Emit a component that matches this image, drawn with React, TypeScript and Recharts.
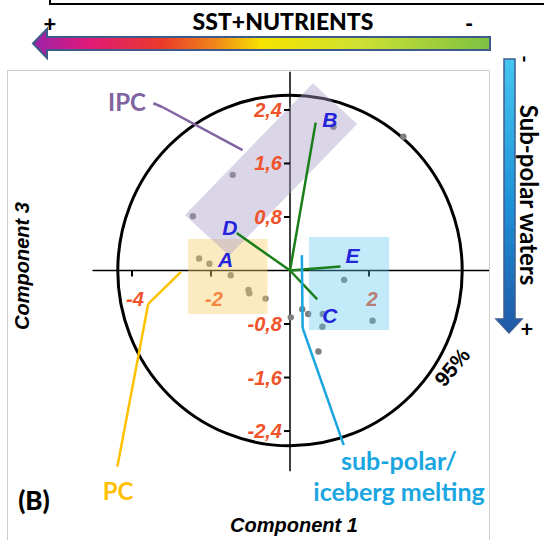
import React from 'react'
import {
  ScatterChart,
  Scatter,
  XAxis,
  YAxis,
  ReferenceLine,
  ReferenceArea,
  ReferenceDot
} from 'recharts'

// sample scores: [Component 1, Component 3]
const samples: [number, number][] = [
  [-1.45, 1.43], [-2.46, 0.81], [-2.3, 0.18], [-2.04, 0.1], [-1.5, -0.07],
  [-1.05, -0.29], [-1.03, -0.34], [-0.62, -0.42], [1.1, 2.15], [2.87, 2.0],
  [1.37, -0.14], [2.09, -0.75], [0.31, -0.58], [0.46, -0.65], [0.02, -0.7],
  [0.83, -0.65], [0.82, -0.84], [0.72, -1.21]
]

// loading vectors (end points)
const vectorNames = ['B', 'C', 'D', 'E']
const vectorEnds: [number, number][] = [[0.65, 2.21], [0.69, -0.43], [-1.35, 0.56], [1.28, 0.06]]

// letter labels
const letterNames = ['A', 'B', 'C', 'D', 'E']
const letterPos: [number, number][] = [[-1.63, 0.17], [1.01, 2.26], [1.01, -0.67], [-1.52, 0.65], [1.58, 0.22]]

const xTicks = [-4, -2, 2]
const yTicks = [2.4, 1.6, 0.8, -0.8, -1.6, -2.4]

// 95% ellipse half axes
const ellipseRx = 4.36
const ellipseRy = 2.62

// grouping boxes
const pcBox = { x1: -2.58, x2: -0.57, y1: -0.65, y2: 0.47 }
const spBox = { x1: 0.48, x2: 2.51, y1: -0.89, y2: 0.5 }
const ipcCorners: [number, number][] = [[-2.66, 0.83], [0.58, 2.8], [1.7, 2.19], [-1.54, 0.22]]

// leader lines
const ipcLeader: [number, number][] = [[-3.46, 2.5], [-3.22, 2.44], [-1.2, 1.8]]
const pcLeader: [number, number][] = [[-2.76, -0.02], [-3.59, -0.5], [-4.37, -2.93]]
const spLeader: [number, number][] = [[0.3, 0.23], [0.32, -0.86], [1.36, -2.61]]

const ARIAL = '"Liberation Sans", Arial, sans-serif'
const CAL = 'Lato, "Open Sans", sans-serif'
const TICK_COLOR = '#f0532a'

function segments(pts: [number, number][], color: string, key: string) {
  return pts.slice(1).map((p, i) => (
    <ReferenceLine
      key={`${key}-${i}`}
      segment={[{ x: pts[i][0], y: pts[i][1] }, { x: p[0], y: p[1] }]}
      stroke={color}
      strokeWidth={2.5}
      ifOverflow="visible"
      zIndex={800}
    />
  ))
}

export default function App() {
  const data = samples.map(([x, y]) => ({ x, y }))
  const ipcX = ipcCorners.map((c) => c[0])
  const ipcY = ipcCorners.map((c) => c[1])
  const ix1 = Math.min(...ipcX), ix2 = Math.max(...ipcX)
  const iy1 = Math.min(...ipcY), iy2 = Math.max(...ipcY)

  return (
    <div style={{ position: 'absolute', left: 0, top: 0, width: 544, height: 540, background: '#fff' }}>
      <ScatterChart width={544} height={540} margin={{ top: 69.8, right: 56.5, bottom: 68.8, left: 92.5 }}>
        <XAxis type="number" dataKey="x" domain={[-5, 5]} hide />
        <YAxis type="number" dataKey="y" domain={[-3, 3]} hide />

        {/* 95% ellipse */}
        <ReferenceArea
          x1={-ellipseRx}
          x2={ellipseRx}
          y1={-ellipseRy}
          y2={ellipseRy}
          zIndex={100}
          shape={(p: any) => (
            <ellipse
              cx={p.x + p.width / 2}
              cy={p.y + p.height / 2}
              rx={p.width / 2}
              ry={p.height / 2}
              fill="none"
              stroke="#000"
              strokeWidth={3}
            />
          )}
        />

        {/* axes through origin */}
        <ReferenceLine segment={[{ x: -5, y: 0 }, { x: 5.04, y: 0 }]} stroke="#000" strokeWidth={1.5} ifOverflow="visible" zIndex={400} />
        <ReferenceLine segment={[{ x: 0, y: 2.97 }, { x: 0, y: -3 }]} stroke="#000" strokeWidth={1.5} ifOverflow="visible" zIndex={400} />

        {xTicks.map((t) => (
          <ReferenceDot
            key={`xt${t}`}
            x={t}
            y={0}
            zIndex={500}
            shape={(p: any) => (
              <g>
                <line x1={p.cx} y1={p.cy} x2={p.cx} y2={p.cy + 6} stroke="#000" strokeWidth={2} />
                <text x={p.cx + 3} y={p.cy + 28} textAnchor="middle" dominantBaseline="central"
                  fontFamily={ARIAL} fontWeight="bold" fontStyle="italic" fontSize={20} fill={TICK_COLOR}>
                  {String(t)}
                </text>
              </g>
            )}
          />
        ))}
        {yTicks.map((t) => (
          <ReferenceDot
            key={`yt${t}`}
            x={0}
            y={t}
            zIndex={750}
            shape={(p: any) => (
              <g>
                <line x1={p.cx - 6} y1={p.cy} x2={p.cx} y2={p.cy} stroke="#000" strokeWidth={2} />
                <text x={p.cx - 8} y={p.cy} textAnchor="end" dominantBaseline="central"
                  fontFamily={ARIAL} fontWeight="bold" fontStyle="italic" fontSize={20} fill={TICK_COLOR}>
                  {String(t).replace('.', ',')}
                </text>
              </g>
            )}
          />
        ))}

        <Scatter
          data={data}
          isAnimationActive={false}
          zIndex={600}
          shape={(p: any) => <circle cx={p.cx} cy={p.cy} r={3.2} fill="#7f7f7f" />}
        />

        {/* grouping boxes */}
        <ReferenceArea {...pcBox} fill="#f9cf6a" fillOpacity={0.42} stroke="none" zIndex={700} />
        <ReferenceArea {...spBox} fill="#55c4ee" fillOpacity={0.36} stroke="none" zIndex={700} />
        <ReferenceArea
          x1={ix1}
          x2={ix2}
          y1={iy1}
          y2={iy2}
          zIndex={700}
          shape={(p: any) => {
            const pts = ipcCorners
              .map(([cx, cy]) => {
                const px = p.x + ((cx - ix1) / (ix2 - ix1)) * p.width
                const py = p.y + ((iy2 - cy) / (iy2 - iy1)) * p.height
                return `${px},${py}`
              })
              .join(' ')
            return <polygon points={pts} fill="#a99cc8" fillOpacity={0.42} />
          }}
        />

        {/* loading vectors */}
        {vectorEnds.map(([x, y], i) => (
          <ReferenceLine
            key={`v${vectorNames[i]}`}
            segment={[{ x: 0, y: 0 }, { x, y }]}
            stroke="#1a7f1a"
            strokeWidth={2.5}
            zIndex={800}
          />
        ))}

        {segments(ipcLeader, '#8064a2', 'ipc')}
        {segments(pcLeader, '#ffc000', 'pc')}
        {segments(spLeader, '#1aa6e0', 'sp')}

        {letterPos.map(([x, y], i) => (
          <ReferenceDot
            key={`l${letterNames[i]}`}
            x={x}
            y={y}
            zIndex={900}
            shape={(p: any) => (
              <text x={p.cx} y={p.cy} textAnchor="middle" dominantBaseline="central"
                fontFamily={ARIAL} fontWeight="bold" fontStyle="italic" fontSize={21} fill="#2424dc">
                {letterNames[i]}
              </text>
            )}
          />
        ))}
      </ScatterChart>

      <svg width={544} height={540} style={{ position: 'absolute', left: 0, top: 0, pointerEvents: 'none' }}>
        <defs>
          <linearGradient id="sst" x1="0" y1="0" x2="1" y2="0">
            <stop offset="0%" stopColor="#9a22a8" />
            <stop offset="12%" stopColor="#e0197a" />
            <stop offset="28%" stopColor="#ea3a2a" />
            <stop offset="40%" stopColor="#f0871a" />
            <stop offset="50%" stopColor="#f6e300" />
            <stop offset="72%" stopColor="#cde033" />
            <stop offset="100%" stopColor="#7cc142" />
          </linearGradient>
          <linearGradient id="sub" x1="0" y1="0" x2="0" y2="1">
            <stop offset="0%" stopColor="#46c6f0" />
            <stop offset="55%" stopColor="#1d8fd6" />
            <stop offset="100%" stopColor="#1f58a6" />
          </linearGradient>
        </defs>

        {/* panel frame */}
        <polyline points="7.5,545 7.5,70.5 489.5,70.5 489.5,545" fill="none" stroke="#cccccc" strokeWidth={1} />
        <polyline points="50,0 50,4 544,4" fill="none" stroke="#000" strokeWidth={2} />

        {/* SST + nutrients arrow */}
        <path d="M33,43.5 L47,29 L47,37 L490,37 L490,50 L47,50 L47,58 Z" fill="url(#sst)" stroke="#3d5a8a" strokeWidth={2} />
        <text x={50} y={23} textAnchor="middle" dominantBaseline="central" fontFamily={CAL} fontWeight="900" fontSize={22}>+</text>
        <text x={283} y={21} textAnchor="middle" dominantBaseline="central" fontFamily={CAL} fontWeight="900" fontSize={23}>SST+NUTRIENTS</text>
        <text x={469} y={23} textAnchor="middle" dominantBaseline="central" fontFamily={CAL} fontWeight="900" fontSize={22}>-</text>

        {/* sub-polar waters arrow */}
        <path d="M504,59 L515,59 L515,319 L522,319 L509,333 L496,319 L504,319 Z" fill="url(#sub)" stroke="#3a5f95" strokeWidth={1.5} />
        <g transform="translate(529,195) rotate(90)">
          <text x={0} y={0} textAnchor="middle" dominantBaseline="central" fontFamily={CAL} fontWeight="bold" fontSize={24}>Sub-polar waters</text>
        </g>
        <g transform="translate(526,59) rotate(90)">
          <text x={0} y={0} textAnchor="middle" dominantBaseline="central" fontFamily={CAL} fontWeight="bold" fontSize={20}>-</text>
        </g>
        <text x={527} y={328} textAnchor="middle" dominantBaseline="central" fontFamily={CAL} fontWeight="bold" fontSize={22}>+</text>

        {/* group labels */}
        <text x={127} y={101} textAnchor="middle" dominantBaseline="central" fontFamily={CAL} fontWeight="bold" fontSize={24} fill="#8064a2">IPC</text>
        <text x={118} y={490} textAnchor="middle" dominantBaseline="central" fontFamily={CAL} fontWeight="bold" fontSize={24} fill="#ffc000">PC</text>
        <text x={399} y={460} textAnchor="middle" dominantBaseline="central" fontFamily={CAL} fontWeight="bold" fontSize={25} fill="#1aa6e0">sub-polar/</text>
        <text x={399} y={491} textAnchor="middle" dominantBaseline="central" fontFamily={CAL} fontWeight="bold" fontSize={25} fill="#1aa6e0">iceberg melting</text>
        <text x={34} y={500} textAnchor="middle" dominantBaseline="central" fontFamily={CAL} fontWeight="900" fontSize={26} fill="#000">(B)</text>

        <g transform="translate(452,367) rotate(-50)">
          <text x={0} y={0} textAnchor="middle" dominantBaseline="central" fontFamily={ARIAL} fontWeight="bold" fontSize={21}>95%</text>
        </g>

        {/* axis titles */}
        <text x={294} y={525} textAnchor="middle" dominantBaseline="central" fontFamily={ARIAL} fontWeight="bold" fontStyle="italic" fontSize={20}>Component 1</text>
        <g transform="translate(22,266) rotate(-90)">
          <text x={0} y={0} textAnchor="middle" dominantBaseline="central" fontFamily={ARIAL} fontWeight="bold" fontStyle="italic" fontSize={20}>Component 3</text>
        </g>
      </svg>
    </div>
  )
}
